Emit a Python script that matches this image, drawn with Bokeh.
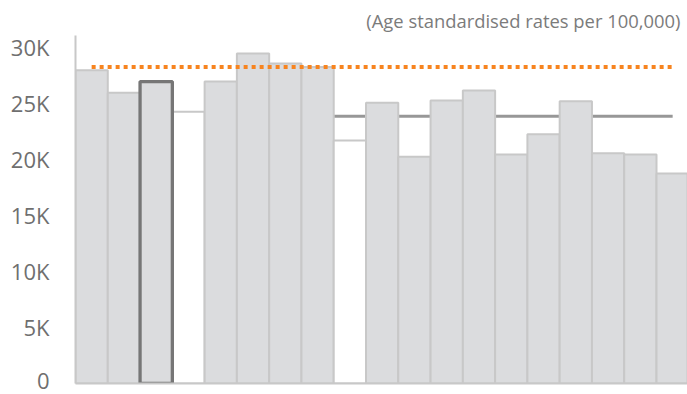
from bokeh.plotting import figure
from bokeh.models import FixedTicker, Title, ColumnDataSource
from bokeh.embed import file_html
from bokeh.resources import INLINE

# Data
categories = list(range(1, 20))
values = [27900, 25900, 26900, 24200, 26900, 29400, 28500, 28200, 21650, 25000,
          20200, 25200, 26100, 20400, 22200, 25150, 20500, 20400, 18700]
fill_colors = ["#DBDCDE", "#DBDCDE", "#DBDCDE", "#FFFFFF", "#DBDCDE", "#DBDCDE",
               "#DBDCDE", "#DBDCDE", "#FFFFFF", "#DBDCDE", "#DBDCDE", "#DBDCDE",
               "#DBDCDE", "#DBDCDE", "#DBDCDE", "#DBDCDE", "#DBDCDE", "#DBDCDE",
               "#DBDCDE"]
highlight_index = 2
benchmark_orange = 28200
benchmark_gray = 23800
tick_values = [0, 5000, 10000, 15000, 20000, 25000, 30000]
tick_labels = ["0", "5K", "10K", "15K", "20K", "25K", "30K"]
subtitle = "(Age standardised rates per 100,000)"

xs = [i + 0.5 for i in range(len(values))]

p = figure(width=687, height=394, output_backend="svg", toolbar_location=None,
           x_range=(0, 18.96), y_range=(0, 31000),
           min_border_left=75, min_border_right=0, min_border_top=35,
           min_border_bottom=11)
p.outline_line_color = None
p.grid.visible = False
p.background_fill_color = "white"

p.add_layout(Title(text=subtitle, align="right", text_font="Open Sans",
                   text_font_size="18.4px", text_font_style="normal",
                   text_color="#7B7B7B", offset=7, standoff=6), "above")

# gray benchmark line (behind bars)
p.line(x=[xs[0], xs[-1]], y=[benchmark_gray, benchmark_gray],
       line_color="#979797", line_width=3)

src = ColumnDataSource(dict(x=xs, top=values, fill=fill_colors))
p.vbar(x="x", top="top", width=1, bottom=0, source=src,
       fill_color="fill", line_color="#C8C8C8", line_width=2)

# highlighted bar
p.vbar(x=[xs[highlight_index]], top=[values[highlight_index]], width=1, bottom=0,
       fill_color="#DBDCDE", line_color="#767676", line_width=3.3)

# orange dotted benchmark line
p.line(x=[xs[0], xs[-1]], y=[benchmark_orange, benchmark_orange],
       line_color="#F7841F", line_width=4, line_dash="4 4")

ya = p.yaxis[0]
ya.ticker = FixedTicker(ticks=tick_values)
ya.major_label_overrides = {v: l for v, l in zip(tick_values, tick_labels)}
ya.major_tick_line_color = None
ya.minor_tick_line_color = None
ya.major_tick_out = 0
ya.major_tick_in = 0
ya.major_label_standoff = 26
ya.axis_line_color = "#C8C8C8"
ya.axis_line_width = 2
ya.major_label_text_font = "Open Sans"
ya.major_label_text_font_size = "22px"
ya.major_label_text_color = "#6F6F6F"

xa = p.xaxis[0]
xa.ticker = FixedTicker(ticks=[])
xa.major_tick_line_color = None
xa.minor_tick_line_color = None
xa.major_tick_out = 0
xa.major_label_text_font_size = "0px"
xa.axis_line_color = "#C8C8C8"
xa.axis_line_width = 2

open("out.html", "w").write(file_html(p, INLINE))
